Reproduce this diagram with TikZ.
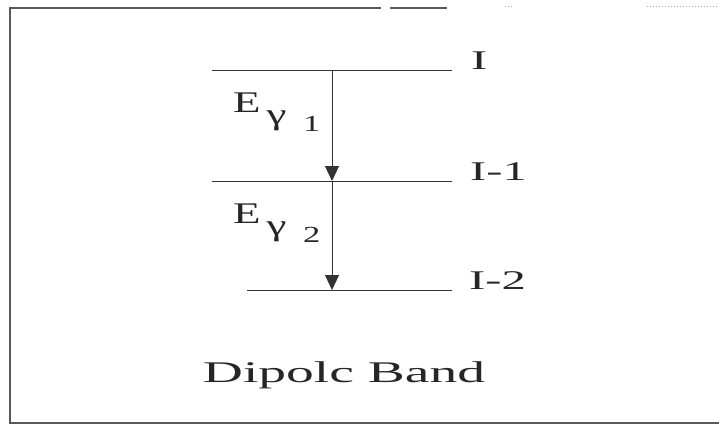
\documentclass[tikz,border=0pt]{standalone}
\usepackage{fontspec}
\setmainfont{Liberation Serif}
\usetikzlibrary{arrows.meta}

\begin{document}
\begin{tikzpicture}[x=1pt,y=-1pt,>={Triangle[width=14pt,length=15pt]},
 frm/.style={draw=black!65,line width=1.6pt},
 lvl/.style={draw=black!80,line width=1pt},
 tr/.style={draw=black!80,line width=1pt,->},
 spin/.style={anchor=base west,inner sep=0pt,text=black!85,font=\fontsize{27}{30}\selectfont},
 ener/.style={anchor=base west,inner sep=0pt,text=black!85,font=\fontsize{30}{32}\selectfont}]
\useasboundingbox (0,0) rectangle (719,425);
% frame
\draw[frm] (381,8) -- (10,8) -- (10,423) -- (719,423);
\draw[frm,line width=1.2pt] (390,8) -- (447,8);
\draw[frm,draw=black!35,line width=1pt,dotted] (505,7) -- (514,7);
\draw[frm,draw=black!35,line width=1pt,dotted] (647,7) -- (719,7);
% levels
\draw[lvl] (212,71) -- (452,71);
\draw[lvl] (212,181) -- (452,181);
\draw[lvl] (247,290) -- (452,290);
\coordinate (t0) at (332,71);
\coordinate (t1) at (332,181);
\coordinate (t2) at (332,290);
\node[spin] (s0) at (471,70) {\scalebox{1.8}[1]{I}};
\node[spin] (s1) at (470,180) {\scalebox{1.8}[1]{I-1}};
\node[spin] (s2) at (469,289) {\scalebox{1.8}[1]{I-2}};
% transitions
\draw[tr] (t0) -- (t1);
\draw[tr] (t1) -- (t2);
\node[ener] (e1) at (233,113) {\scalebox{1.5}[1]{E\hspace{4pt}\raisebox{-12pt}{γ}\hspace{11pt}\raisebox{-19pt}{\fontsize{23}{25}\selectfont 1}}};
\node[ener] (e2) at (233,223) {\scalebox{1.5}[1]{E\hspace{4pt}\raisebox{-12pt}{γ}\hspace{11pt}\raisebox{-19pt}{\fontsize{23}{25}\selectfont 2}}};
\node[anchor=base,inner sep=0pt,text=black!85,font=\fontsize{30}{32}\selectfont] (band) at (344,382) {\scalebox{1.85}[1]{Dipolc Band}};
\end{tikzpicture}
\end{document}
